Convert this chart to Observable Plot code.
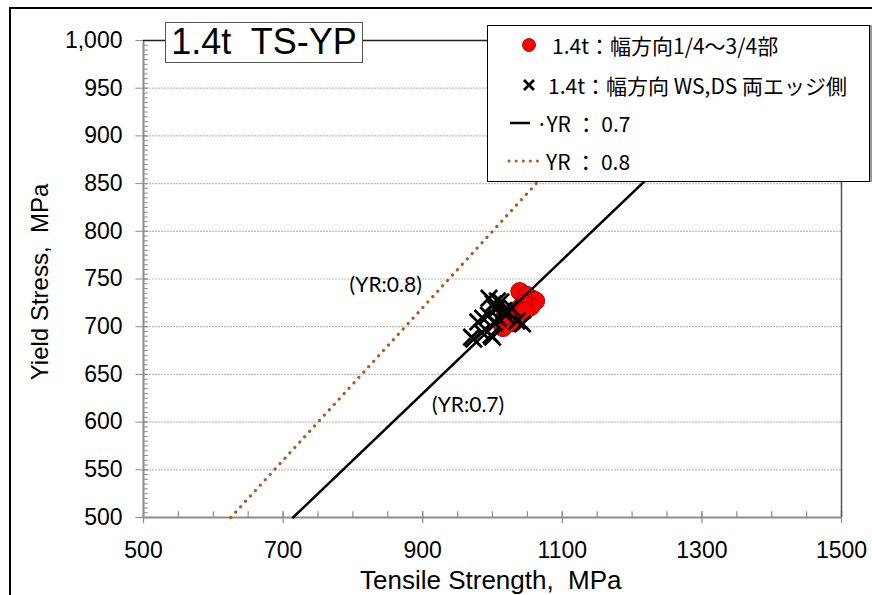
<!DOCTYPE html>
<html>
<head>
<meta charset="utf-8">
<script src="https://cdn.jsdelivr.net/npm/d3@7"></script>
<script src="https://cdn.jsdelivr.net/npm/@observablehq/plot@0.6"></script>
<style>
  html, body { margin: 0; padding: 0; background: #fff; overflow: hidden; }
  #wrap { position: relative; width: 872px; height: 595px; overflow: hidden; }
  #outer { position: absolute; left: 9px; top: 7px; width: 900px; height: 700px; border: 2px solid #000; box-sizing: border-box; }
  #chart { position: absolute; left: 0; top: 0; }
  #title { position: absolute; left: 165px; top: 22px; width: 198px; height: 41px; box-sizing: border-box;
           border: 1.5px solid #555; background: #fff; font-family: "Liberation Sans", Arial, sans-serif;
           font-size: 36px; line-height: 38px; text-align: center; white-space: pre; color: #000; }
  #legend { position: absolute; left: 487px; top: 25px; width: 383px; height: 157px; box-sizing: border-box;
            border: 1.5px solid #000; background: #fff; box-shadow: 2px 0 0 #999;
            font-family: "Noto Sans CJK JP", "Noto Sans", sans-serif; font-size: 21px; color: #000; }
  .row { position: absolute; left: 0; height: 30px; line-height: 30px; white-space: pre; }
  .row svg { position: absolute; top: 0; }
  .row span { position: absolute; top: 0; }
  .axlabel { position: absolute; font-family: "Liberation Sans", Arial, sans-serif; font-size: 24px; color: #000; white-space: pre; }
  #xlab { font-size: 26px; }
</style>
</head>
<body>
<div id="wrap">
  <div id="chart"></div>
  <div id="outer"></div>
  <div id="title"></div>
  <div id="legend"></div>
  <div id="xlab" class="axlabel"></div>
  <div id="ylab" class="axlabel"></div>
</div>
<script>
// ---- data ----
const titleText = "1.4t  TS-YP";
const xLabel = "Tensile Strength,  MPa";
const yLabel = "Yield Stress,  MPa";
const xDomain = [500, 1500];
const yDomain = [500, 1000];
const xTickLabels = [500, 700, 900, 1100, 1300, 1500];
const xMinorTicks = d3.range(500, 1501, 50);
const yTickLabels = d3.range(500, 1001, 50);
const yMinorTicks = d3.range(500, 1001, 5);
const yGrid = d3.range(550, 1000, 50);

// center part (1/4 ~ 3/4) : red circles
const centerTS = [1039, 1049, 1057, 1062, 1055, 1044, 1036, 1028, 1022, 1015, 1030, 1046, 1018];
const centerYS = [737, 733, 729, 727, 721, 724, 718, 714, 706, 699, 704, 716, 711];
// edge part (WS, DS) : black crosses
const edgeTS = [970, 973, 979, 985, 998, 1000, 1003, 994, 1001, 1007, 1012, 1019, 1035, 1027, 986, 1008, 1016, 1043, 995, 1005];
const edgeYS = [689, 687, 705, 694, 691, 689, 704, 712, 724, 727, 726, 712, 706, 720, 709, 709, 717, 703, 730, 718];

// yield ratio lines
const yrRatios = [0.7, 0.8];
const yrLabels = ["(YR:0.7)", "(YR:0.8)"];
const yrLabelTS = [965, 847];
const yrLabelYS = [618, 743];

const legendLabels = ["1.4t：幅方向1/4～3/4部", "1.4t：幅方向 WS,DS 両エッジ側", "·YR ： 0.7", "YR ： 0.8"];

// ---- build ----
const centerPts = centerTS.map((t, i) => ({ts: t, ys: centerYS[i]}));
const edgePts = edgeTS.map((t, i) => ({ts: t, ys: edgeYS[i]}));
const yrLine = r => [yDomain[0] / r, yDomain[1] / r].map(t => ({ts: t, ys: r * t}));
const line07 = yrLine(yrRatios[0]);
const line08 = yrLine(yrRatios[1]);
const annot = yrLabels.map((l, i) => ({label: l, ts: yrLabelTS[i], ys: yrLabelYS[i]}));

const brown = "#b35a1f";
const axisGray = "#8c8c8c";
const fontLatin = "'Liberation Sans', Arial, sans-serif";

const chart = Plot.plot({
  width: 872,
  height: 595,
  marginLeft: 143,
  marginRight: 31,
  marginTop: 40,
  marginBottom: 78,
  style: {fontFamily: fontLatin, fontSize: "23px", background: "transparent", overflow: "visible"},
  x: {domain: xDomain},
  y: {domain: yDomain},
  marks: [
    Plot.ruleY(yGrid, {stroke: "#bdbdbd", strokeWidth: 1.2, strokeDasharray: "2,1"}),
    // minor ticks
    Plot.ruleY(yMinorTicks, {x1: 500, x2: 507, stroke: axisGray, strokeWidth: 1}),
    Plot.ruleY(yTickLabels, {x1: 489, x2: 507, stroke: axisGray, strokeWidth: 1}),
    Plot.ruleX(xMinorTicks, {y1: 500, y2: 506, stroke: axisGray, strokeWidth: 1.2}),
    Plot.ruleX(xTickLabels, {y1: 493.5, y2: 506, stroke: axisGray, strokeWidth: 1.2}),
    // frame
    Plot.ruleY([yDomain[0]], {stroke: axisGray, strokeWidth: 2}),
    Plot.ruleX([xDomain[0]], {stroke: axisGray, strokeWidth: 2}),
    Plot.ruleY([yDomain[1]], {stroke: "#222", strokeWidth: 1.5}),
    Plot.ruleX([xDomain[1]], {stroke: "#555", strokeWidth: 1.5}),
    Plot.axisY(yTickLabels, {tickSize: 0, tickPadding: 21, fontSize: 23, tickFormat: d3.format(","), label: null}),
    Plot.axisX(xTickLabels, {tickSize: 0, tickPadding: 24, fontSize: 23, tickFormat: d => String(d), label: null}),
    // data points
    Plot.dot(centerPts, {x: "ts", y: "ys", r: 9, fill: "#ff0000", stroke: "#7a0000", strokeWidth: 0.8}),
    Plot.line(line08, {x: "ts", y: "ys", stroke: brown, strokeWidth: 3.2, strokeDasharray: "0.1,7.2", strokeLinecap: "round"}),
    Plot.line(line07, {x: "ts", y: "ys", stroke: "#000", strokeWidth: 2.5}),
    Plot.dot(edgePts, {x: "ts", y: "ys", symbol: "times", r: 7.5, stroke: "#000", strokeWidth: 2.8}),
    Plot.text(annot, {x: "ts", y: "ys", text: "label", fontSize: 21, fill: "#000", fontFamily: "Lato, 'Open Sans', sans-serif"})
  ]
});
document.getElementById("chart").appendChild(chart);

document.getElementById("title").textContent = titleText;

// axis labels
const xl = document.getElementById("xlab");
xl.textContent = xLabel;
xl.style.left = (491 - xl.offsetWidth / 2) + "px";
xl.style.top = (580 - xl.offsetHeight / 2) + "px";
const yl = document.getElementById("ylab");
yl.textContent = yLabel;
yl.style.left = (40 - yl.offsetWidth / 2) + "px";
yl.style.top = (282 - yl.offsetHeight / 2) + "px";
yl.style.transform = "rotate(-90deg)";

// legend
const lg = document.getElementById("legend");
const rowsTop = [4, 44, 82, 120];
const sym = [
  `<svg width="30" height="30" style="left:26px"><circle cx="15" cy="15" r="6.5" fill="#ff0000" stroke="#7a0000" stroke-width="0.8"/></svg>`,
  `<svg width="30" height="30" style="left:26px"><path d="M10,10L20,20M20,10L10,20" stroke="#000" stroke-width="2.8"/></svg>`,
  `<svg width="30" height="30" style="left:20px"><line x1="2" y1="15" x2="22" y2="15" stroke="#000" stroke-width="2.5"/></svg>`,
  `<svg width="40" height="30" style="left:18px"><line x1="3" y1="15" x2="38" y2="15" stroke="${brown}" stroke-width="3" stroke-dasharray="0.1,7" stroke-linecap="round"/></svg>`
];
const textLeft = [64, 60, 48, 58];
legendLabels.forEach((l, i) => {
  const d = document.createElement("div");
  d.className = "row";
  d.style.top = rowsTop[i] + "px";
  d.innerHTML = sym[i] + `<span style="left:${textLeft[i]}px">${l}</span>`;
  lg.appendChild(d);
});
</script>
</body>
</html>
